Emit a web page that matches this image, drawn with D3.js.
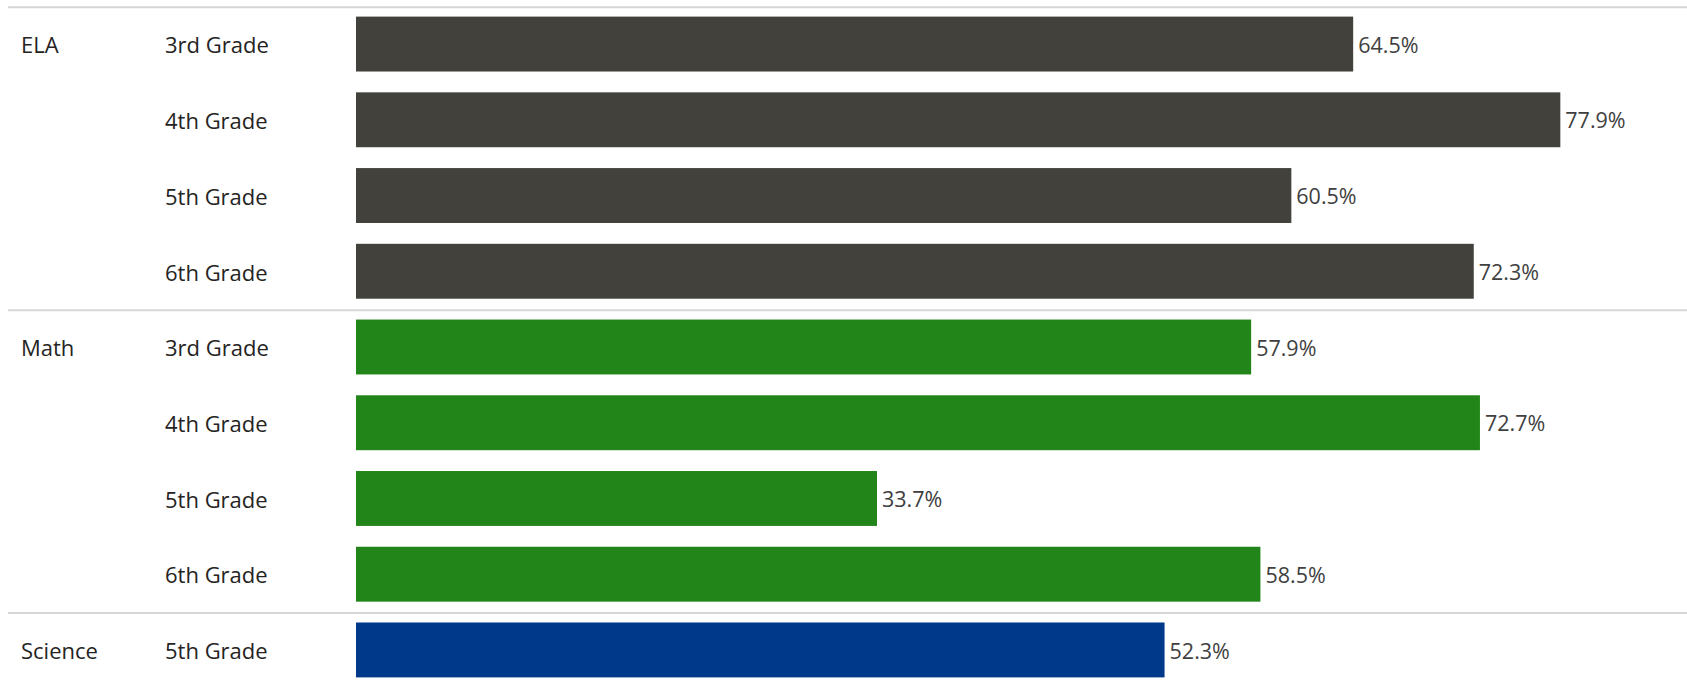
<!DOCTYPE html>
<html>
<head>
<meta charset="utf-8">
<script src="https://cdn.jsdelivr.net/npm/d3@7"></script>
<style>
  body { margin: 0; background: #fff; }
  text { font-family: "Open Sans", "Noto Sans", sans-serif; }
</style>
</head>
<body>
<div id="chart"></div>
<script>
// subjects, grades and the share of students for each row
var subjects = ["ELA", "ELA", "ELA", "ELA", "Math", "Math", "Math", "Math", "Science"];
var grades = ["3rd Grade", "4th Grade", "5th Grade", "6th Grade",
              "3rd Grade", "4th Grade", "5th Grade", "6th Grade",
              "5th Grade"];
var values = [64.5, 77.9, 60.5, 72.3, 57.9, 72.7, 33.7, 58.5, 52.3];
var subjectColors = {ELA: "#42413c", Math: "#22851a", Science: "#00398a"};

var width = 1687, height = 683;

var svg = d3.select("#chart").append("svg")
    .attr("width", width)
    .attr("height", height);

// one band for every row
var rows = d3.range(values.length);

var y = d3.scaleBand()
    .domain(rows)
    .range([6, 688])
    .paddingInner(0.275)
    .paddingOuter(0.14);

var x = d3.scaleLinear()
    .domain([0, 100])
    .range([356, 1902]);

// separator lines above each subject group
var groupStarts = rows.filter(function(i) { return i === 0 || subjects[i] !== subjects[i - 1]; });
var step = y.step();

function sepY(i) { return y(i) - y.paddingInner() * step / 2 + 1; }

svg.selectAll(".sep")
    .data(groupStarts)
  .enter().append("line")
    .attr("class", "sep")
    .attr("x1", 8)
    .attr("x2", width)
    .attr("y1", sepY)
    .attr("y2", sepY)
    .attr("stroke", "#d6d6d6")
    .attr("stroke-width", 2);

// subject label on the first row of the group
svg.selectAll(".subject")
    .data(groupStarts)
  .enter().append("text")
    .attr("class", "subject")
    .attr("x", 21)
    .attr("y", function(i) { return y(i) + y.bandwidth() / 2; })
    .attr("dy", "0.42em")
    .attr("font-size", 22)
    .attr("fill", "#252423")
    .text(function(i) { return subjects[i]; });

// grade labels
svg.selectAll(".grade")
    .data(rows)
  .enter().append("text")
    .attr("class", "grade")
    .attr("x", 165)
    .attr("y", function(i) { return y(i) + y.bandwidth() / 2; })
    .attr("dy", "0.42em")
    .attr("font-size", 22)
    .attr("fill", "#252423")
    .text(function(i) { return grades[i]; });

// bars
svg.selectAll(".bar")
    .data(rows)
  .enter().append("rect")
    .attr("class", "bar")
    .attr("x", x(0))
    .attr("y", function(i) { return y(i); })
    .attr("width", function(i) { return x(values[i]) - x(0); })
    .attr("height", y.bandwidth())
    .attr("fill", function(i) { return subjectColors[subjects[i]]; });

// value labels
svg.selectAll(".val")
    .data(rows)
  .enter().append("text")
    .attr("class", "val")
    .attr("x", function(i) { return x(values[i]) + 5; })
    .attr("y", function(i) { return y(i) + y.bandwidth() / 2; })
    .attr("dy", "0.4em")
    .attr("font-size", 21.5)
    .attr("fill", "#404040")
    .text(function(i) { return d3.format(".1f")(values[i]) + "%"; });
</script>
</body>
</html>
